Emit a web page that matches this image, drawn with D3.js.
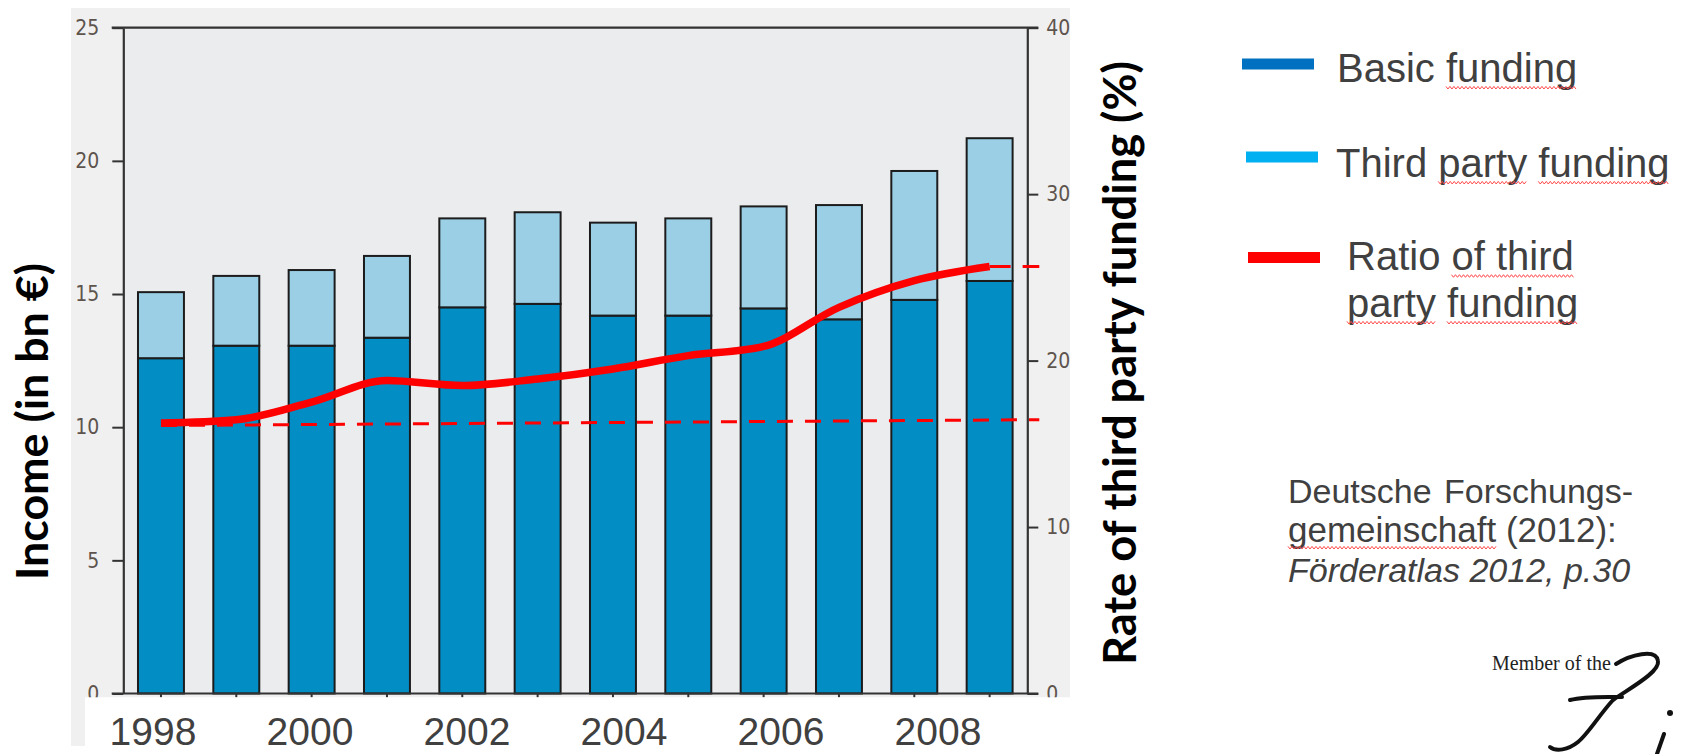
<!DOCTYPE html>
<html><head><meta charset="utf-8">
<script src="https://cdnjs.cloudflare.com/ajax/libs/d3/7.8.5/d3.min.js"></script>
<style>html,body{margin:0;padding:0;background:#fff;overflow:hidden}</style>
</head><body><svg id="c" width="1683" height="754"></svg>
<script>
// ---------------- data ----------------
const years = [1998,1999,2000,2001,2002,2003,2004,2005,2006,2007,2008,2009];
const basicFunding = [12.59,13.06,13.06,13.36,14.50,14.63,14.19,14.19,14.46,14.05,14.78,15.49];
const thirdPartyFunding = [2.48,2.62,2.84,3.07,3.34,3.44,3.49,3.65,3.83,4.29,4.84,5.36];
const thirdPartyRatio = [16.25,16.45,17.5,18.8,18.5,18.9,19.5,20.3,20.85,23.2,24.8,25.65];
const refLineLow = [16.1,16.45];      // dashed reference line (%), start / end
const incomeTicks = [0,5,10,15,20,25];
const rateTicks = [0,10,20,30,40];
const yearLabels = [1998,2000,2002,2004,2006,2008];
const legendLabels = ["Basic funding","Third party funding","Ratio of third","party funding"];
const citation = ["Deutsche Forschungs-","gemeinschaft (2012):","Förderatlas 2012, p.30"];

// ---------------- layout ----------------
const L = 123.3, R = 1027.3, T = 27.7, B = 693.5;
const svg = d3.select("#c");
const C = {dark:"#038dc5", light:"#9acfe6", edge:"#1c1c1c", red:"#ff0000", axis:"#333", tick:"#5e544e"};

const x = d3.scaleBand().domain(years).range([L,R]).paddingInner(0.39).paddingOuter(0.195);
const yL = d3.scaleLinear().domain([0,25]).range([B,T]);
const yR = d3.scaleLinear().domain([0,40]).range([B,T]);
const cx = y => x(y) + x.bandwidth()/2;

// panel background
svg.append("rect").attr("x",71).attr("y",8).attr("width",1070-71).attr("height",746-8).attr("fill","#f0f0f0");
svg.append("rect").attr("x",L).attr("y",T).attr("width",R-L).attr("height",B-T).attr("fill","#ebecee");

// bars
const rows = years.map((yr,i)=>({yr, b:basicFunding[i], t:thirdPartyFunding[i]}));
const gb = svg.append("g").attr("stroke",C.edge).attr("stroke-width",2);
gb.selectAll(".b").data(rows).join("rect").attr("x",d=>x(d.yr)).attr("width",x.bandwidth())
  .attr("y",d=>yL(d.b)).attr("height",d=>B-yL(d.b)).attr("fill",C.dark);
gb.selectAll(".t").data(rows).join("rect").attr("x",d=>x(d.yr)).attr("width",x.bandwidth())
  .attr("y",d=>yL(d.b+d.t)).attr("height",d=>yL(d.b)-yL(d.b+d.t)).attr("fill",C.light);

// axes
const axL = svg.append("g").attr("transform",`translate(${L},0)`)
  .call(d3.axisLeft(yL).tickValues(incomeTicks).tickSize(11).tickSizeOuter(0).tickPadding(13));
const axR = svg.append("g").attr("transform",`translate(${R},0)`)
  .call(d3.axisRight(yR).tickValues(rateTicks).tickSize(11).tickSizeOuter(0).tickPadding(8));
[axL,axR].forEach(a=>{
  a.select(".domain").attr("stroke",C.axis).attr("stroke-width",2.2);
  a.selectAll(".tick line").attr("stroke",C.axis).attr("stroke-width",2);
  a.selectAll(".tick text").attr("fill",C.tick).attr("font-family","'Liberation Sans Narrow','DejaVu Sans Condensed','Liberation Sans',Arial,sans-serif")
    .attr("font-size",21).attr("font-weight","normal");
});
// frame top + baseline
svg.append("line").attr("x1",L-11.6).attr("x2",R+11).attr("y1",T).attr("y2",T).attr("stroke",C.axis).attr("stroke-width",2.2);
const axB = svg.append("g").attr("transform",`translate(0,${B})`)
  .call(d3.axisBottom(x).tickSize(4).tickSizeOuter(0).tickFormat(""));
axB.select(".domain").remove();
axB.selectAll(".tick line").attr("stroke",C.axis).attr("stroke-width",2);
svg.append("line").attr("x1",L-11.6).attr("x2",R+11).attr("y1",B).attr("y2",B).attr("stroke",C.axis).attr("stroke-width",2.2);

// white cover under baseline
svg.append("rect").attr("x",85).attr("y",697.3).attr("width",1100).attr("height",60).attr("fill","#fff");

// year labels (slide text)
const lx = d3.scaleLinear().domain([1998,2008]).range([153,938]);
svg.append("g").selectAll("text").data(yearLabels).join("text")
  .attr("x",d=>lx(d)).attr("y",745).attr("text-anchor","middle")
  .attr("font-family","'Liberation Sans',Arial,sans-serif").attr("font-size",39).attr("fill","#404040").text(d=>d);

// dashed reference lines
svg.append("line").attr("x1",cx(years[0])).attr("x2",R+12)
  .attr("y1",yR(refLineLow[0])).attr("y2",yR(refLineLow[1]))
  .attr("stroke",C.red).attr("stroke-width",3).attr("stroke-dasharray","16,12");
const last = thirdPartyRatio[thirdPartyRatio.length-1];
svg.append("line").attr("x1",cx(years[years.length-1])).attr("x2",R+12)
  .attr("y1",yR(last)).attr("y2",yR(last))
  .attr("stroke",C.red).attr("stroke-width",3).attr("stroke-dasharray","21,12");

// ratio line
const line = d3.line().x((d,i)=>cx(years[i])).y(d=>yR(d)).curve(d3.curveMonotoneX);
svg.append("path").attr("d",line(thirdPartyRatio)).attr("fill","none").attr("stroke",C.red)
  .attr("stroke-width",7.5).attr("stroke-linejoin","round");

// axis titles
function fit(sel,target){const len=sel.node().getComputedTextLength();const fs=+sel.attr("font-size");sel.attr("font-size",fs*target/len);}
const t1 = svg.append("text").attr("transform","translate(48,421.5) rotate(-90)").attr("text-anchor","middle")
  .attr("font-family","Lato,'Open Sans',sans-serif").attr("font-weight","bold").attr("font-size",44).attr("fill","#000")
  .text("Income (in bn €)");
fit(t1,317);
const t2 = svg.append("text").attr("transform","translate(1136,363) rotate(-90)").attr("text-anchor","middle")
  .attr("font-family","Lato,'Open Sans',sans-serif").attr("font-weight","bold").attr("font-size",44).attr("fill","#000")
  .text("Rate of third party funding (%)");
fit(t2,604);

// squiggle helper
function squiggle(x1,x2,y){
  const pts=[];for(let xx=x1,k=0;xx<=x2;xx+=2,k++)pts.push([xx,y+(k%2?1.3:-1.3)]);
  svg.append("path").attr("d",d3.line()(pts)).attr("fill","none").attr("stroke","#ff4a4a").attr("stroke-width",1);
}
function under(txt,start,len,dy){
  const n=txt.node();const a=n.getStartPositionOfChar(start).x;const b=n.getEndPositionOfChar(start+len-1).x;
  squiggle(a,b,+txt.attr("y")+dy);
}

// legend
const LF = "'Liberation Sans',Arial,sans-serif";
const sw = [{c:"#0070c0",x:1242,y:64},{c:"#00b0f0",x:1246,y:157},{c:"#ff0000",x:1248,y:257.5}];
svg.append("g").selectAll("rect").data(sw).join("rect").attr("x",d=>d.x).attr("y",d=>d.y-5.5)
  .attr("width",72).attr("height",11).attr("fill",d=>d.c);
const lt = [{t:legendLabels[0],x:1337,y:81.7},{t:legendLabels[1],x:1336,y:176.7},{t:legendLabels[2],x:1347,y:270},{t:legendLabels[3],x:1347,y:316.7}];
const ltxt = lt.map(d=>svg.append("text").attr("x",d.x).attr("y",d.y).attr("font-family",LF).attr("font-size",40).attr("fill","#404040").text(d.t));
under(ltxt[0],6,7,6); under(ltxt[1],6,5,6); under(ltxt[1],12,7,6);
under(ltxt[2],6,8,6); under(ltxt[3],0,5,6); under(ltxt[3],6,7,6);

// citation
const cy=[503.3,541.7,581.7], cs=[34,35,34];
const ct = citation.map((t,i)=>svg.append("text").attr("x",1288).attr("y",cy[i]).attr("font-family",LF)
  .attr("font-size",cs[i]).attr("fill","#404040").attr("font-style",i===2?"italic":"normal")
  .attr("word-spacing",i===0?3:0).text(t));
under(ct[1],0,12,6);

// logo
svg.append("text").attr("x",1492).attr("y",670).attr("font-family","'Liberation Serif','DejaVu Serif',serif")
  .attr("font-size",20).attr("fill","#222").text("Member of the");
const lg = svg.append("g").attr("fill","none").attr("stroke","#111").attr("stroke-width",4).attr("stroke-linecap","round");
lg.append("path").attr("d","M1616,664 C1630,655 1656,648 1658,661 C1660,672 1630,688 1613,700 C1600,714 1588,734 1578,742 C1568,750 1556,752 1550,747");
lg.append("path").attr("d","M1570,700 C1585,696 1605,697 1622,697");
lg.append("path").attr("d","M1664,734 L1657,754");
lg.append("circle").attr("cx",1670).attr("cy",713).attr("r",3).attr("fill","#111").attr("stroke","none");
</script></body></html>
